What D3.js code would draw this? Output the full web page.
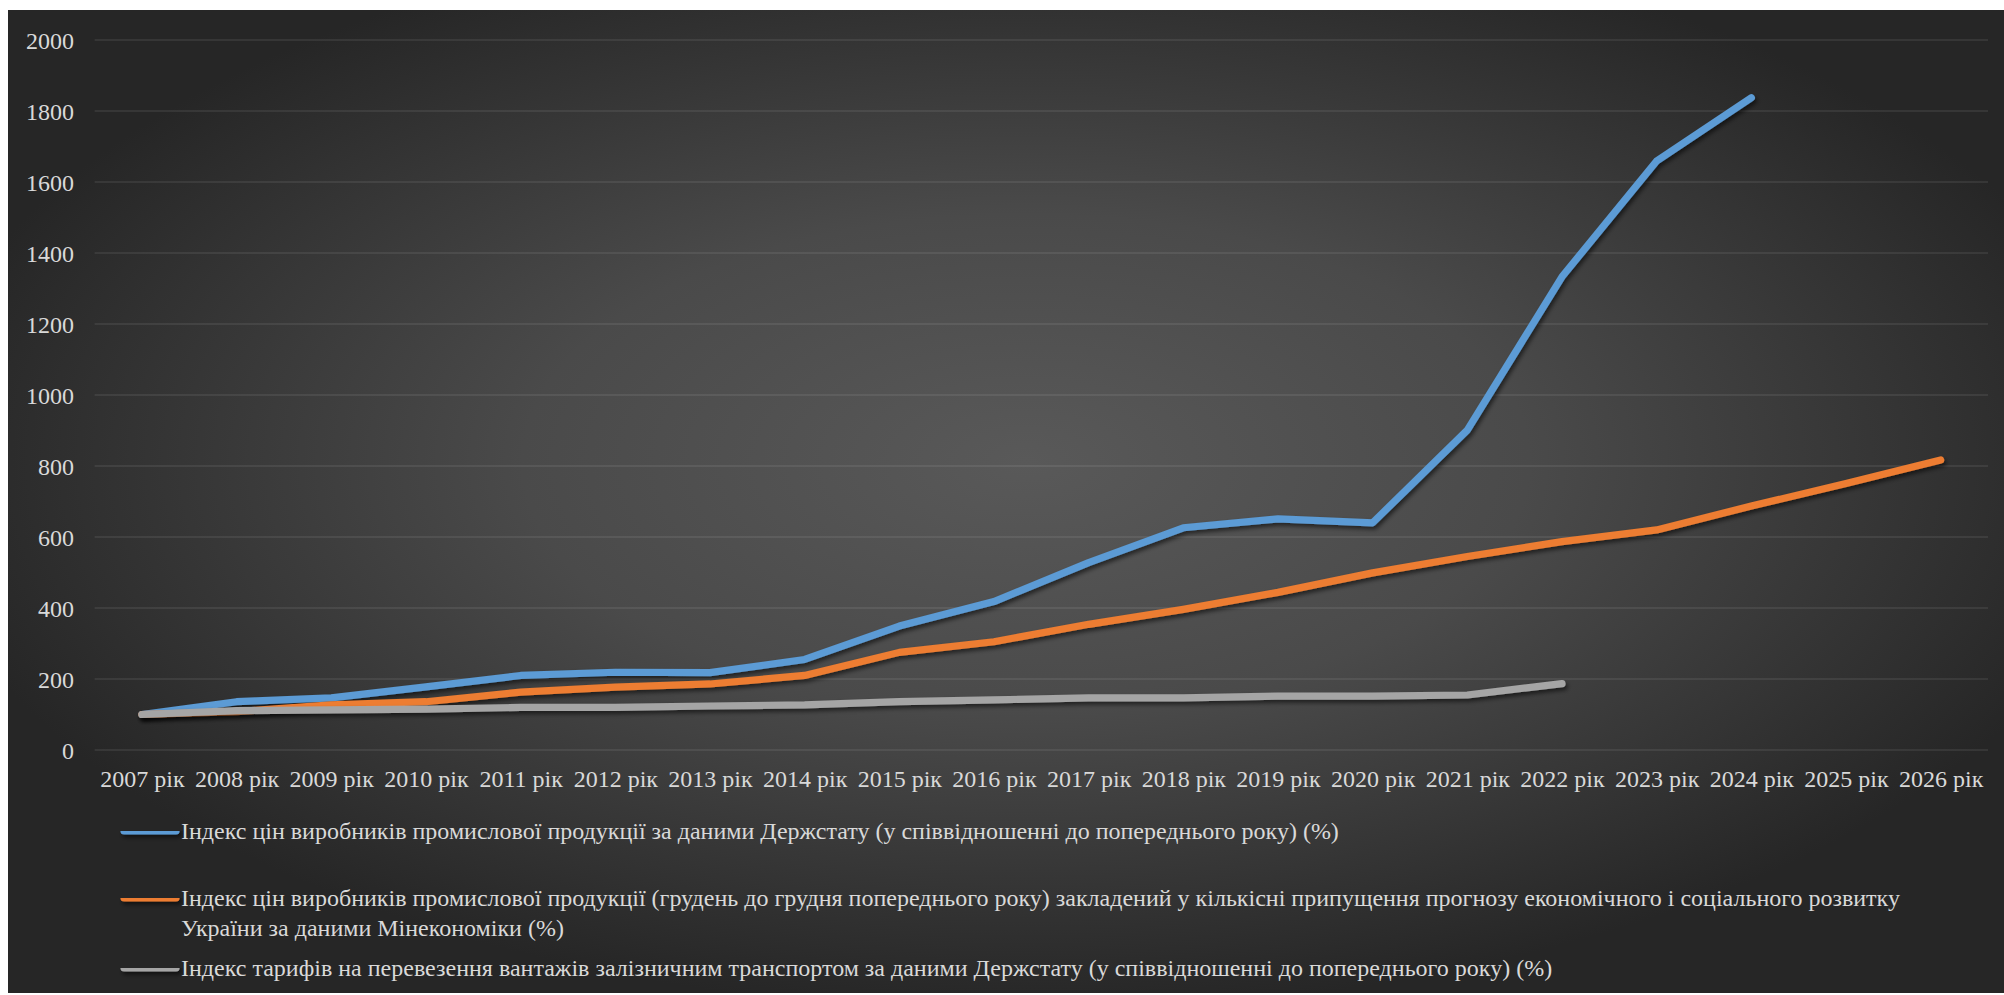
<!DOCTYPE html>
<html>
<head>
<meta charset="utf-8">
<script src="https://cdn.jsdelivr.net/npm/d3@7/dist/d3.min.js"></script>
<style>
  html, body { margin: 0; padding: 0; background: #ffffff; }
  svg { display: block; }
  svg text { font-family: "Liberation Serif", "DejaVu Serif", serif !important; fill: #d9d9d9; }
</style>
</head>
<body>
<svg id="chart" width="2004" height="995"></svg>
<script>
// Years on the category axis
const years = ["2007", "2008", "2009", "2010", "2011", "2012", "2013", "2014", "2015", "2016",
               "2017", "2018", "2019", "2020", "2021", "2022", "2023", "2024", "2025", "2026"];
const yearLabels = years.map(y => y + " рік");

// Producer price index, State Statistics Service (cumulative, 2007 = 100)
const ppiStat = [100, 136, 147, 178, 210, 219, 218, 255, 349, 418,
                 528, 626, 651, 640, 901, 1333, 1659, 1837];

// Producer price index, Ministry of Economy forecast assumptions
const ppiForecast = [100, 108, 127, 136, 163, 177, 186, 210, 275, 305,
                     354, 396, 444, 499, 545, 587, 620, 687, 751, 817];

// Rail freight tariff index, State Statistics Service
const railTariff = [100, 111, 113, 115, 120, 120, 124, 127, 136, 141,
                    147, 147, 152, 152, 155, 187];

const yTicks = [0, 200, 400, 600, 800, 1000, 1200, 1400, 1600, 1800, 2000];

const legendLines = [
  ["Індекс цін виробників промислової продукції за даними Держстату (у співвідношенні до попереднього року) (%)"],
  ["Індекс цін виробників промислової продукції (грудень до грудня попереднього року) закладений у кількісні припущення прогнозу економічного і соціального розвитку",
   "України за даними Мінекономіки (%)"],
  ["Індекс тарифів на перевезення вантажів залізничним транспортом за даними Держстату (у співвідношенні до попереднього року) (%)"]
];

const series = [
  { values: ppiStat, color: "#5B9BD5", legend: legendLines[0] },
  { values: ppiForecast, color: "#ED7D31", legend: legendLines[1] },
  { values: railTariff, color: "#A5A5A5", legend: legendLines[2] }
];

const svg = d3.select("#chart");
const defs = svg.append("defs");

const grad = defs.append("radialGradient")
  .attr("id", "bg")
  .attr("cx", 0.51).attr("cy", 0.46).attr("r", 0.56)
  .attr("fx", 0.51).attr("fy", 0.46);
grad.append("stop").attr("offset", "0%").attr("stop-color", "#595959");
grad.append("stop").attr("offset", "45%").attr("stop-color", "#4a4a4a");
grad.append("stop").attr("offset", "100%").attr("stop-color", "#262626");

// Soft drop shadow under the series lines (user-space region so flat lines keep it)
const shadow = defs.append("filter")
  .attr("id", "shadow")
  .attr("filterUnits", "userSpaceOnUse")
  .attr("x", 0).attr("y", 0).attr("width", 2004).attr("height", 995);
shadow.append("feDropShadow")
  .attr("dx", 2).attr("dy", 3).attr("stdDeviation", 2.2)
  .attr("flood-color", "#000").attr("flood-opacity", 0.55);

// Chart area background
svg.append("rect")
  .attr("x", 8).attr("y", 10)
  .attr("width", 1996).attr("height", 983)
  .attr("fill", "url(#bg)");

const x = d3.scalePoint()
  .domain(years)
  .range([94.6, 1988])
  .padding(0.5);

const y = d3.scaleLinear()
  .domain([0, 2000])
  .range([750, 40]);

// Horizontal gridlines
svg.append("g")
  .selectAll("line")
  .data(yTicks)
  .join("line")
  .attr("x1", 94.6).attr("x2", 1988)
  .attr("y1", d => y(d)).attr("y2", d => y(d))
  .attr("stroke", "rgba(255,255,255,0.075)")
  .attr("stroke-width", 2);

// Value axis labels
const yAxis = svg.append("g")
  .attr("transform", "translate(74,0)")
  .call(d3.axisLeft(y).tickValues(yTicks).tickSize(0).tickPadding(0).tickFormat(d3.format("d")));
yAxis.attr("font-family", null).attr("font-size", null);
yAxis.select(".domain").remove();
yAxis.selectAll("text")
  .attr("font-size", 24)
  .attr("dy", "0.36em")
  .attr("fill", "#d9d9d9");

// Category axis labels
const xAxis = svg.append("g")
  .attr("transform", "translate(0,770)")
  .call(d3.axisBottom(x).tickSize(0).tickPadding(0).tickFormat((d, i) => yearLabels[i]));
xAxis.attr("font-family", null).attr("font-size", null);
xAxis.select(".domain").remove();
xAxis.selectAll("text")
  .attr("font-size", 24)
  .attr("dy", "0.7em")
  .attr("fill", "#d9d9d9");

// Series lines
const line = d3.line()
  .x((d, i) => x(years[i]))
  .y(d => y(d));

svg.append("g")
  .selectAll("path")
  .data(series)
  .join("path")
  .attr("d", s => line(s.values))
  .attr("fill", "none")
  .attr("stroke", s => s.color)
  .attr("stroke-width", 7.2)
  .attr("stroke-linecap", "round")
  .attr("stroke-linejoin", "round")
  .attr("filter", "url(#shadow)");

// Legend
const legendY = [831, 898, 968];
const legend = svg.append("g");
series.forEach((s, i) => {
  const g = legend.append("g").attr("transform", `translate(0,${legendY[i]})`);
  g.append("line")
    .attr("x1", 124).attr("x2", 176)
    .attr("y1", 0).attr("y2", 0)
    .attr("stroke", s.color)
    .attr("stroke-width", 7.2)
    .attr("stroke-linecap", "round")
    .attr("filter", "url(#shadow)");
  const t = g.append("text")
    .attr("x", 181)
    .attr("y", 0)
    .attr("font-size", 24);
  s.legend.forEach((ln, j) => {
    t.append("tspan")
      .attr("x", 181)
      .attr("dy", j === 0 ? "0.33em" : "1.25em")
      .text(ln);
  });
});
</script>
</body>
</html>
